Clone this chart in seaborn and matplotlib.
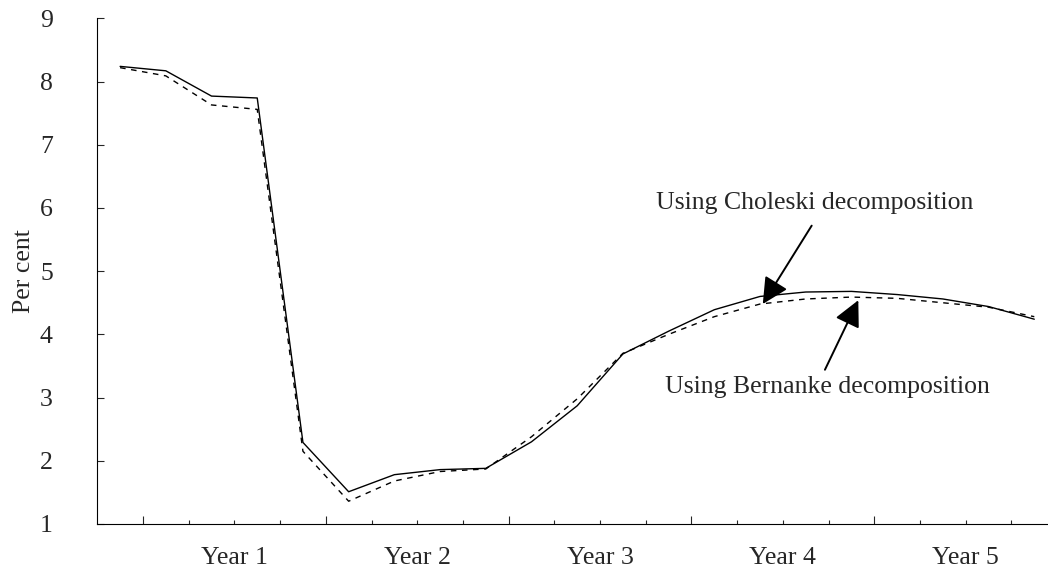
"""Impulse response of the cash rate: Choleski vs Bernanke decomposition."""

import numpy as np
import pandas as pd
import matplotlib
matplotlib.use('Agg')
import matplotlib.pyplot as plt
import seaborn as sns

# quarter number after the shock (1..21)
quarters = list(range(1, 22))

choleski = [8.24, 8.17, 7.77, 7.74, 2.29, 1.51, 1.78, 1.86, 1.88, 2.30, 2.87,
            3.69, 4.05, 4.39, 4.60, 4.67, 4.68, 4.63, 4.56, 4.44, 4.24]
bernanke = [8.22, 8.09, 7.63, 7.56, 2.15, 1.36, 1.68, 1.83, 1.87, 2.38, 2.98,
            3.70, 4.00, 4.28, 4.48, 4.56, 4.59, 4.57, 4.50, 4.43, 4.28]

year_labels = ['Year 1', 'Year 2', 'Year 3', 'Year 4', 'Year 5']

df = pd.DataFrame({
    'quarter': quarters * 2,
    'value': choleski + bernanke,
    'method': ['Choleski'] * len(quarters) + ['Bernanke'] * len(quarters),
})
# plot each quarter in the middle of its tick interval
df['x'] = df['quarter'] - 0.5

sns.set_theme(style='white')
plt.rcParams['font.family'] = ['Liberation Serif', 'DejaVu Serif']

fig = plt.figure(figsize=(10.48, 5.77), dpi=100)
ax = fig.add_axes([0.0928, 0.0919, 0.9072, 0.8763])

sns.lineplot(data=df, x='x', y='value', style='method',
             dashes={'Choleski': '', 'Bernanke': (4, 4)},
             color='black', linewidth=1.0, legend=False, ax=ax)

ax.set_xlim(0, 20.8)
ax.set_ylim(1, 9)

# quarter ticks, years labelled in between the major ticks
ax.set_xticks(np.arange(1, 21), minor=True)
ax.set_xticks([1, 5, 9, 13, 17])
ax.set_xticklabels([])
for i, lab in enumerate(year_labels):
    ax.text(3 + 4 * i, -0.046, lab, transform=ax.get_xaxis_transform(),
            ha='center', va='top', fontsize=18.5)
ax.tick_params(axis='x', which='major', direction='in', length=6, width=0.8,
               bottom=True)
ax.tick_params(axis='x', which='minor', direction='in', length=3, width=0.8,
               bottom=True)

ax.set_yticks(range(1, 10))
ax.tick_params(axis='y', direction='in', length=5, width=0.8, left=True,
               labelsize=18.5, pad=32)
ax.set_ylabel('Per cent', fontsize=18.5)
ax.yaxis.set_label_coords(-0.066, 0.5)
ax.set_xlabel('')

for side in ['top', 'right']:
    ax.spines[side].set_visible(False)
for side in ['left', 'bottom']:
    ax.spines[side].set_color('black')
    ax.spines[side].set_linewidth(0.8)

arrow = dict(arrowstyle='-|>', color='black', lw=1.4, mutation_scale=40,
             shrinkA=0, shrinkB=0)
ax.annotate('', xy=(14.56, 4.48), xytext=(15.63, 5.72), arrowprops=arrow)
ax.text(15.7, 6.08, 'Using Choleski decomposition', ha='center', va='center',
        fontsize=18.5)
ax.annotate('', xy=(16.65, 4.54), xytext=(15.92, 3.44), arrowprops=arrow)
ax.text(15.98, 3.17, 'Using Bernanke decomposition', ha='center', va='center',
        fontsize=18.5)

fig.savefig('out.png', dpi=100)
plt.close(fig)
